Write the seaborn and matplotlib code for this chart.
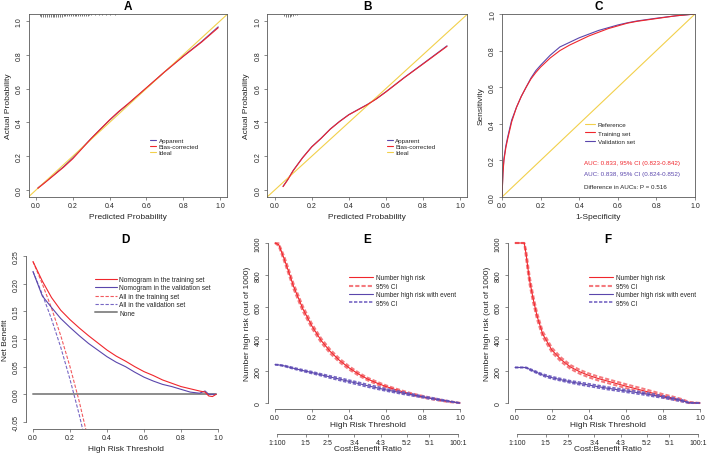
import numpy as np
import matplotlib
matplotlib.use("Agg")
import matplotlib.pyplot as plt
import seaborn as sns

sns.set_style("white")
plt.rcParams["font.family"] = ["Liberation Sans", "DejaVu Sans"]

RED = "#f0262c"
PINK = "#f47a7e"
PURPLE = "#5a46ac"
LILAC = "#7767c4"
GOLD = "#f2d04b"
GREY = "#8c8c8c"
AXIS = "#5a5a5a"
TXT = "#262626"

# ---- A: calibration, training set
cal_a_pred = [0.01, 0.05, 0.10, 0.15, 0.20, 0.25, 0.30, 0.35, 0.40, 0.45, 0.50, 0.60, 0.70, 0.80, 0.90, 0.99]
cal_a_app = [0.012, 0.047, 0.092, 0.138, 0.190, 0.248, 0.305, 0.360, 0.413, 0.463, 0.508, 0.603, 0.700, 0.792, 0.878, 0.965]
cal_a_bc = [0.010, 0.045, 0.090, 0.135, 0.185, 0.245, 0.305, 0.360, 0.415, 0.465, 0.510, 0.605, 0.700, 0.790, 0.875, 0.960]
rug_a_x = [0.020, 0.030, 0.040, 0.050, 0.060, 0.070, 0.080, 0.090, 0.100, 0.110, 0.120, 0.130,
           0.140, 0.150, 0.160, 0.170, 0.180, 0.190, 0.200, 0.210, 0.220, 0.230, 0.240, 0.250,
           0.260, 0.270, 0.280, 0.290, 0.300, 0.320, 0.340, 0.360, 0.380, 0.400, 0.430, 0.460]
rug_a_h = [0.5, 0.8, 1.0, 1.0, 1.0, 0.95, 0.95, 0.9, 0.9, 0.85, 0.85, 0.8,
           0.8, 0.75, 0.75, 0.7, 0.7, 0.65, 0.65, 0.6, 0.6, 0.55, 0.55, 0.5,
           0.5, 0.45, 0.45, 0.4, 0.35, 0.3, 0.25, 0.2, 0.15, 0.12, 0.1, 0.08]

# ---- B: calibration, validation set
cal_b_pred = [0.045, 0.07, 0.10, 0.12, 0.15, 0.20, 0.25, 0.30, 0.35, 0.40, 0.45, 0.50, 0.55, 0.60, 0.70, 0.80, 0.93]
cal_b_app = [0.022, 0.062, 0.116, 0.146, 0.191, 0.256, 0.306, 0.361, 0.406, 0.446, 0.476, 0.506, 0.541, 0.581, 0.666, 0.747, 0.853]
cal_b_bc = [0.020, 0.060, 0.115, 0.145, 0.190, 0.255, 0.305, 0.360, 0.405, 0.445, 0.475, 0.505, 0.540, 0.580, 0.665, 0.745, 0.850]
rug_b_x = [0.05, 0.06, 0.07, 0.08, 0.09, 0.10, 0.11, 0.12]
rug_b_h = [0.5, 0.8, 1.0, 0.9, 0.7, 0.5, 0.3, 0.2]

# ---- C: ROC
roc_fpr = [0, 0.005, 0.01, 0.02, 0.03, 0.05, 0.075, 0.10, 0.125, 0.15, 0.175, 0.20, 0.25,
           0.30, 0.35, 0.40, 0.45, 0.50, 0.55, 0.60, 0.65, 0.70, 0.80, 0.90, 1.0]
roc_train = [0, 0.13, 0.20, 0.27, 0.32, 0.41, 0.49, 0.55, 0.60, 0.645, 0.68, 0.71, 0.76,
             0.80, 0.83, 0.855, 0.88, 0.90, 0.92, 0.935, 0.95, 0.96, 0.975, 0.99, 1.0]
roc_valid = [0, 0.14, 0.21, 0.28, 0.33, 0.42, 0.49, 0.55, 0.60, 0.65, 0.69, 0.72, 0.775,
             0.82, 0.845, 0.87, 0.89, 0.91, 0.925, 0.94, 0.952, 0.962, 0.977, 0.99, 1.0]
auc_lines = ["AUC: 0.833, 95% CI (0.823-0.842)",
             "AUC: 0.838, 95% CI (0.824-0.852)",
             "Difference in AUCs: P = 0.516"]

# ---- D: decision curves
dca_t = [0.00, 0.05, 0.10, 0.15, 0.20, 0.25, 0.30, 0.35, 0.40, 0.45, 0.50, 0.55,
         0.60, 0.65, 0.70, 0.75, 0.80, 0.85, 0.90, 0.93, 0.95, 0.97, 0.99]
dca_train = [0.240, 0.205, 0.175, 0.152, 0.135, 0.120, 0.106, 0.093, 0.080, 0.069, 0.060, 0.050,
             0.041, 0.034, 0.026, 0.020, 0.014, 0.010, 0.006, 0.004, -0.003, -0.004, 0.000]
dca_valid = [0.222, 0.178, 0.157, 0.137, 0.121, 0.106, 0.092, 0.080, 0.068, 0.058, 0.050, 0.040,
             0.031, 0.024, 0.018, 0.014, 0.009, 0.004, 0.002, 0.006, 0.000, 0.000, 0.000]
all_t_train = [0.00, 0.05, 0.10, 0.15, 0.20, 0.25, 0.29]
all_train = [0.240, 0.200, 0.156, 0.106, 0.050, -0.013, -0.070]
all_t_valid = [0.00, 0.05, 0.10, 0.15, 0.20, 0.25, 0.28]
all_valid = [0.222, 0.181, 0.136, 0.085, 0.027, -0.037, -0.080]
none_t = [0.00, 0.99]
none_nb = [0.0, 0.0]

# ---- E: clinical impact, training set
cic_e_t = [0.00, 0.02, 0.05, 0.08, 0.10, 0.15, 0.20, 0.25, 0.30, 0.35, 0.40, 0.45,
           0.50, 0.55, 0.60, 0.65, 0.70, 0.75, 0.80, 0.85, 0.90, 0.95, 1.00]
e_risk = [1000, 990, 900, 800, 730, 590, 480, 390, 320, 265, 220, 182, 150, 125, 103, 84, 67, 52, 39, 27, 16, 7, 0]
e_risk_lo = [1000, 982, 885, 784, 714, 574, 466, 377, 308, 254, 210, 173, 142, 117, 96, 77, 61, 47, 34, 23, 13, 5, 0]
e_risk_hi = [1000, 998, 915, 816, 746, 606, 494, 403, 332, 276, 230, 191, 158, 133, 110, 91, 73, 57, 44, 31, 19, 9, 0]
e_event = [240, 238, 232, 223, 217, 203, 190, 176, 162, 149, 135, 122, 108, 95, 82, 71, 60, 49, 38, 28, 18, 9, 0]
e_event_lo = [240, 236, 229, 219, 213, 198, 184, 170, 155, 141, 127, 114, 100, 87, 75, 64, 53, 43, 33, 23, 14, 6, 0]
e_event_hi = [240, 240, 235, 227, 221, 208, 196, 182, 169, 157, 143, 130, 116, 103, 89, 78, 67, 55, 43, 33, 22, 11, 0]

# ---- F: clinical impact, validation set
cic_f_t = [0.00, 0.05, 0.06, 0.07, 0.08, 0.10, 0.12, 0.15, 0.20, 0.25, 0.30, 0.35, 0.40,
           0.45, 0.50, 0.55, 0.60, 0.65, 0.70, 0.75, 0.80, 0.85, 0.90, 0.94, 1.00]
f_risk = [1000, 1000, 930, 840, 760, 640, 540, 430, 330, 270, 225, 195, 172,
          153, 137, 121, 105, 90, 75, 60, 45, 32, 18, 3, 0]
f_risk_lo = [1000, 1000, 905, 815, 735, 618, 520, 413, 316, 257, 213, 183, 160,
             141, 125, 109, 93, 78, 63, 49, 35, 23, 11, 0, 0]
f_risk_hi = [1000, 1000, 955, 865, 785, 662, 560, 447, 344, 283, 237, 207, 184,
             165, 149, 133, 117, 102, 87, 71, 55, 41, 25, 7, 0]
f_event = [222, 222, 221, 216, 210, 200, 190, 175, 158, 145, 132, 122, 112,
           102, 92, 84, 75, 67, 58, 48, 38, 27, 15, 1, 0]
f_event_lo = [222, 222, 219, 213, 206, 195, 185, 169, 151, 138, 125, 114, 104,
              94, 84, 76, 67, 59, 50, 40, 31, 20, 9, 0, 0]
f_event_hi = [222, 222, 223, 219, 214, 205, 195, 181, 165, 152, 139, 130, 120,
              110, 100, 92, 83, 75, 66, 56, 45, 34, 21, 3, 0]

cb_labels = ["1:100", "1:5", "2:5", "3:4", "4:3", "5:2", "5:1", "100:1"]
cb_cost = [1, 1, 2, 3, 4, 5, 5, 100]
cb_benefit = [100, 5, 5, 4, 3, 2, 1, 1]

fig = plt.figure(figsize=(7.09, 4.56), dpi=100)
W, H = 709, 456


def add_axes(left, right, top, bottom):
    return fig.add_axes([left / W, 1 - bottom / H, (right - left) / W, (bottom - top) / H])


def style(ax, xticks, yticks, xlim, ylim, box=True, yfmt="{:.1f}"):
    ax.set_xlim(*xlim)
    ax.set_ylim(*ylim)
    ax.set_xticks(xticks, labels=[f"{v:.1f}" for v in xticks])
    ax.set_yticks(yticks, labels=[yfmt.format(v) for v in yticks])
    for s in ax.spines.values():
        s.set_color(AXIS)
        s.set_linewidth(0.6)
    if not box:
        ax.spines["top"].set_visible(False)
        ax.spines["right"].set_visible(False)
        ax.spines["left"].set_bounds(yticks[0], yticks[-1])
        ax.spines["bottom"].set_bounds(xticks[0], xticks[-1])
    ax.tick_params(direction="out", length=2.4, width=0.5, color=AXIS, labelsize=5,
                   labelcolor=TXT, pad=1.2, left=True, bottom=True)
    ax.tick_params(axis="y", labelrotation=90, pad=1.8)
    plt.setp(ax.get_yticklabels(), va="center")
    ax.grid(False)


def panel_title(ax, letter, yfrac):
    ax.text(0.5, yfrac, letter, transform=ax.transAxes, ha="center", va="center",
            fontsize=8.5, fontweight="bold", color="black")


def legend(ax, handles, labels, x, y, fs, hl, ls):
    lg = ax.legend(handles, labels, loc="upper left", bbox_to_anchor=(x, y), frameon=False,
                   fontsize=fs, handlelength=hl, handletextpad=0.35, labelspacing=ls,
                   borderpad=0, borderaxespad=0)
    for t in lg.get_texts():
        t.set_color(TXT)


def line(ax, x, y, **kw):
    sns.lineplot(x=x, y=y, ax=ax, sort=False, estimator=None, **kw)
    return ax.lines[-1]


ticks01 = [0.0, 0.2, 0.4, 0.6, 0.8, 1.0]
lim_ext = (-0.04, 1.04)

# ---------------- A
axA = add_axes(28.6, 227.4, 15.2, 197.8)
style(axA, ticks01, ticks01, lim_ext, lim_ext)
hA1 = line(axA, cal_a_pred, cal_a_app, color=PURPLE, lw=0.8)
hA3 = line(axA, list(lim_ext), list(lim_ext), color=GOLD, lw=0.8)
hA2 = line(axA, cal_a_pred, cal_a_bc, color=RED, lw=0.8)
axA.vlines(rug_a_x, 1.04 - 0.018 * np.array(rug_a_h), 1.04, color="#444444", lw=0.5)
axA.set_xlabel("Predicted Probability", fontsize=6, color=TXT, labelpad=3)
axA.set_ylabel("Actual Probability", fontsize=6, color=TXT, labelpad=3)
legend(axA, [hA1, hA2, hA3], ["Apparent", "Bias-corrected", "Ideal"], 0.611, 0.322, 4.5, 1.0, 0.1)
panel_title(axA, "A", 1.045)

# ---------------- B
axB = add_axes(267.3, 467.4, 15.2, 197.8)
style(axB, ticks01, ticks01, lim_ext, lim_ext)
hB1 = line(axB, cal_b_pred, cal_b_app, color=PURPLE, lw=0.8)
hB3 = line(axB, list(lim_ext), list(lim_ext), color=GOLD, lw=0.8)
hB2 = line(axB, cal_b_pred, cal_b_bc, color=RED, lw=0.8)
axB.vlines(rug_b_x, 1.04 - 0.018 * np.array(rug_b_h), 1.04, color="#444444", lw=0.5)
axB.set_xlabel("Predicted Probability", fontsize=6, color=TXT, labelpad=3)
axB.set_ylabel("Actual Probability", fontsize=6, color=TXT, labelpad=3)
legend(axB, [hB1, hB2, hB3], ["Apparent", "Bias-corrected", "Ideal"], 0.597, 0.324, 4.5, 1.0, 0.1)
panel_title(axB, "B", 1.045)

# ---------------- C
axC = add_axes(502, 695, 15, 198)
style(axC, ticks01, ticks01, (0, 1), (0, 1))
hC1 = line(axC, [0, 1], [0, 1], color=GOLD, lw=0.8)
hC3 = line(axC, roc_fpr, roc_valid, color=PURPLE, lw=0.8)
hC2 = line(axC, roc_fpr, roc_train, color=RED, lw=0.8)
axC.set_xlabel("1-Specificity", fontsize=6, color=TXT, labelpad=3)
axC.set_ylabel("Sensitivity", fontsize=6, color=TXT, labelpad=3)
legend(axC, [hC1, hC2, hC3], ["Reference", "Training set", "Validation set"], 0.432, 0.413, 4.5, 1.6, 0.55)
for txt, col, yy in zip(auc_lines, [RED, PURPLE, TXT], [0.186, 0.128, 0.055]):
    axC.text(0.423, yy, txt, transform=axC.transAxes, fontsize=4.5, color=col, va="center")
panel_title(axC, "C", 1.044)

# ---------------- D
axD = add_axes(25.6, 225.4, 250.4, 429.6)
style(axD, ticks01, [-0.05, 0.0, 0.05, 0.10, 0.15, 0.20, 0.25], lim_ext, (-0.062, 0.262),
      box=False, yfmt="{:.2f}")
hD5 = line(axD, none_t, none_nb, color=GREY, lw=1.4)
hD3 = line(axD, all_t_train, all_train, color="#f25a5e", lw=0.8, linestyle=(0, (3, 1.5)))
hD4 = line(axD, all_t_valid, all_valid, color=LILAC, lw=0.8, linestyle=(0, (3, 1.5)))
hD2 = line(axD, dca_t, dca_valid, color=PURPLE, lw=0.8)
hD1 = line(axD, dca_t, dca_train, color=RED, lw=0.8)
axD.set_xlabel("High Risk Threshold", fontsize=6, color=TXT, labelpad=3)
axD.set_ylabel("Net Benefit", fontsize=6, color=TXT, labelpad=3)
legend(axD, [hD1, hD2, hD3, hD4, hD5],
       ["Nomogram in the training set", "Nomogram in the validation set",
        "All in the training set", "All in the validation set", "None"],
       0.347, 0.852, 4.8, 3.3, 0.22)
panel_title(axD, "D", 1.058)


# ---------------- E / F
def impact(ax, t, risk, lo, hi, ev, ev_lo, ev_hi, letter):
    style(ax, ticks01, [0, 200, 400, 600, 800, 1000], lim_ext, (-40, 1040), box=False, yfmt="{:d}")
    h2 = line(ax, t, lo, color=PINK, lw=1.5, linestyle=(0, (2, 1)))
    line(ax, t, hi, color=PINK, lw=1.5, linestyle=(0, (2, 1)))
    h1 = line(ax, t, risk, color=RED, lw=0.8)
    h4 = line(ax, t, ev_lo, color=LILAC, lw=1.2, linestyle=(0, (2, 1)))
    line(ax, t, ev_hi, color=LILAC, lw=1.2, linestyle=(0, (2, 1)))
    h3 = line(ax, t, ev, color=PURPLE, lw=0.8)
    ax.set_xlabel("High Risk Threshold", fontsize=6, color=TXT, labelpad=-0.5)
    ax.set_ylabel("Number high risk (out of 1000)", fontsize=6, color=TXT, labelpad=3)
    legend(ax, [h1, h2, h3, h4],
           ["Number high risk", "95% CI", "Number high risk with event", "95% CI"],
           0.408, 0.781, 4.7, 3.7, 0.22)
    pos = [c / (c + b) for c, b in zip(cb_cost, cb_benefit)]
    sec = ax.secondary_xaxis(-0.141)
    sec.set_xticks(pos, labels=cb_labels)
    sec.spines["bottom"].set_bounds(pos[0], pos[-1])
    sec.spines["bottom"].set_color(AXIS)
    sec.spines["bottom"].set_linewidth(0.6)
    sec.tick_params(direction="out", length=2.4, width=0.5, color=AXIS, labelsize=5,
                    labelcolor=TXT, pad=1.2)
    sec.set_xlabel("Cost:Benefit Ratio", fontsize=6, color=TXT, labelpad=-0.5)
    panel_title(ax, letter, 0.988)


axE = add_axes(267.6, 467.4, 237.6, 410.4)
impact(axE, cic_e_t, e_risk, e_risk_lo, e_risk_hi, e_event, e_event_lo, e_event_hi, "E")
axF = add_axes(507.6, 707.4, 237.6, 410.4)
impact(axF, cic_f_t, f_risk, f_risk_lo, f_risk_hi, f_event, f_event_lo, f_event_hi, "F")

fig.savefig("out.png", dpi=100)
